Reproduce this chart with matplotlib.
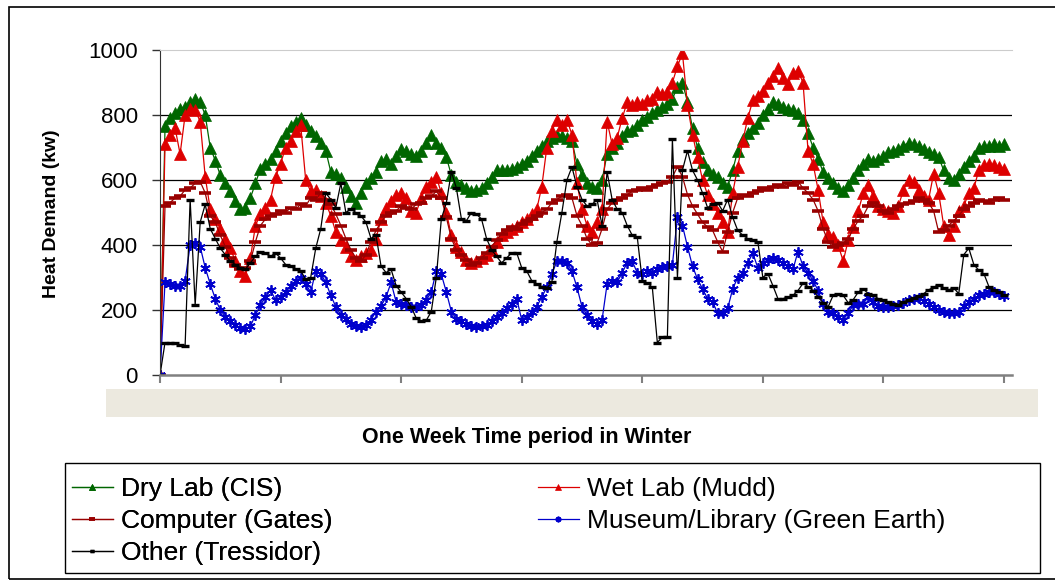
import numpy as np
import matplotlib
matplotlib.use("Agg")
import matplotlib.pyplot as plt
from matplotlib.patches import Rectangle

plt.rcParams["font.family"] = ["Liberation Sans", "DejaVu Sans"]

# hourly heat demand (kW) over one winter week
dry_lab = [
    0, 765, 790, 805, 820, 825, 840, 850, 840, 800, 700, 660, 615, 590, 565, 535,
    510, 515, 545, 590, 635, 650, 665, 690, 720, 745, 765, 780, 790, 770, 750, 735,
    715, 690, 625, 620, 605, 580, 550, 530, 560, 590, 605, 625, 660, 665, 650, 675,
    695, 690, 680, 675, 690, 715, 740, 715, 700, 670, 615, 595, 585, 575, 565, 570,
    575, 590, 610, 630, 630, 630, 635, 640, 650, 660, 675, 690, 705, 720, 730, 740,
    735, 730, 720, 650, 615, 590, 580, 575, 600, 680, 700, 715, 735, 750, 755, 770,
    785, 795, 805, 815, 825, 835, 850, 885, 900, 840, 760, 700, 655, 630, 620, 610,
    590, 580, 630, 690, 725, 745, 760, 775, 800, 820, 840, 835, 825, 820, 815, 805,
    785, 745, 700, 665, 625, 605, 590, 575, 565, 585, 605, 630, 650, 665, 660, 665,
    675, 685, 690, 695, 705, 715, 710, 705, 695, 685, 680, 670, 630, 605, 600, 620,
    640, 660, 675, 700, 705, 705, 710, 705, 710,
]
wet_lab = [
    0, 710, 740, 760, 680, 800, 820, 815, 780, 610, 510, 480, 450, 420, 390, 350,
    320, 305, 360, 460, 495, 515, 540, 610, 650, 700, 720, 750, 770, 600, 565, 570,
    550, 530, 490, 440, 415, 395, 365, 355, 365, 375, 385, 420, 480, 515, 535, 555,
    560, 545, 505, 500, 545, 580, 595, 610, 560, 500, 430, 395, 380, 355, 345, 350,
    360, 370, 385, 410, 430, 440, 450, 460, 470, 480, 495, 510, 580, 700, 750, 785,
    770, 785, 740, 590, 510, 460, 440, 470, 510, 780, 710, 730, 790, 840, 830, 840,
    835, 845, 850, 870, 865, 870, 900, 950, 990, 830, 740, 670, 600, 555, 525, 500,
    470, 440, 560, 640, 720, 790, 845, 860, 875, 900, 920, 945, 915, 895, 930, 935,
    900, 690, 650, 570, 470, 435, 425, 400, 350, 415, 455, 505, 560, 585, 550, 520,
    510, 505, 500, 520, 570, 600, 595, 570, 550, 540, 620, 560, 460, 430, 460, 505,
    520, 560, 575, 630, 645, 650, 645, 640, 635,
]
computer = [
    0, 520, 530, 545, 550, 570, 575, 590, 595, 560, 490, 470, 430, 395, 360, 340,
    325, 330, 350, 410, 460, 480, 490, 495, 505, 500, 515, 510, 525, 520, 545, 540,
    560, 540, 525, 495, 460, 420, 385, 360, 350, 370, 410, 445, 470, 490, 500, 505,
    520, 515, 510, 525, 530, 545, 550, 565, 545, 485, 420, 385, 370, 355, 340, 345,
    360, 375, 395, 415, 435, 445, 455, 450, 465, 475, 480, 490, 500, 510, 530, 540,
    550, 555, 545, 490, 460, 420, 400, 405, 450, 510, 530, 540, 545, 555, 565, 570,
    575, 570, 580, 585, 590, 595, 610, 640, 610, 555, 520, 495, 470, 455, 445, 410,
    380, 440, 500, 545, 555, 550, 560, 565, 575, 570, 580, 585, 580, 590, 585, 595,
    575, 560, 540, 505, 450, 410, 395, 400, 405, 420, 450, 475, 490, 520, 530, 520,
    505, 500, 510, 520, 525, 530, 535, 545, 540, 530, 505, 440, 445, 460, 475, 490,
    510, 520, 530, 540, 535, 530, 540, 545, 540,
]
museum = [
    0, 285, 280, 275, 275, 290, 400, 405, 395, 330, 280, 235, 200, 180, 165, 155,
    145, 143, 150, 185, 215, 240, 262, 230, 240, 255, 275, 290, 300, 280, 255, 320,
    312, 285, 245, 210, 185, 172, 158, 150, 148, 155, 170, 195, 212, 240, 285, 225,
    220, 215, 210, 210, 215, 230, 255, 320, 310, 255, 195, 172, 165, 158, 150, 148,
    150, 155, 165, 180, 192, 205, 218, 235, 170, 180, 195, 210, 240, 270, 310, 350,
    350, 345, 320, 270, 210, 185, 165, 158, 170, 280, 290, 285, 315, 345, 350, 315,
    310, 320, 315, 325, 332, 335, 340, 485, 460, 395, 335, 295, 265, 235, 225, 190,
    190, 205, 265, 300, 315, 345, 375, 330, 345, 355, 360, 355, 345, 335, 325, 380,
    335, 315, 290, 260, 220, 195, 190, 180, 170, 190, 215, 220, 220, 240, 225, 212,
    210, 208, 212, 215, 222, 230, 235, 236, 228, 220, 210, 200, 195, 190, 192, 195,
    212, 225, 235, 245, 250, 256, 255, 248, 242,
]
other = [
    0, 100, 98, 97, 92, 90, 540, 215, 470, 525, 450, 420, 390, 370, 350, 340,
    330, 325, 345, 365, 380, 375, 365, 375, 360, 340, 335, 325, 320, 295, 300, 390,
    450, 560, 540, 515, 590, 500, 510, 500, 490, 470, 420, 430, 335, 315, 325, 275,
    255, 235, 210, 175, 165, 168, 195, 300, 480, 530, 625, 575, 480, 475, 500, 495,
    480, 420, 385, 365, 345, 360, 376, 376, 330, 320, 290, 280, 270, 268, 285, 410,
    500, 600, 640, 580, 540, 520, 525, 540, 460, 625, 540, 510, 500, 460, 430, 425,
    290, 283, 270, 100, 117, 118, 725, 300, 630, 690, 630, 600, 560, 515, 525, 530,
    505, 540, 485, 445, 430, 420, 415, 410, 300, 312, 275, 235, 235, 240, 245, 260,
    282, 272, 260, 240, 222, 210, 245, 250, 245, 222, 232, 255, 265, 250, 245, 235,
    230, 225, 218, 215, 225, 232, 238, 242, 250, 262, 270, 278, 268, 262, 268, 250,
    370, 390, 340, 322, 312, 272, 262, 255, 245,
]

labels = ["Dry Lab (CIS)", "Wet Lab (Mudd)", "Computer (Gates)",
          "Museum/Library (Green Earth)", "Other (Tressidor)"]
colors = ["#006600", "#DD0000", "#990000", "#0000CC", "#000000"]
markers = ["^", "^", "_", (6, 2, 0), "_"]
sizes = [8, 8, 9, 7.5, 6]
widths = [0.5, 0.5, 2.6, 1.3, 2.4]

W, H = 1055, 581
fig = plt.figure(figsize=(W / 100, H / 100), dpi=100)


def fx(px):
    return px / W


def fy(py):
    return 1 - py / H


# outer chart frame, beige band under the plot area, legend frame
fig.patches.append(Rectangle((fx(9), fy(579)), fx(1070 - 9), fy(7) - fy(579),
                             transform=fig.transFigure, fill=False,
                             edgecolor="black", lw=1.2))
fig.patches.append(Rectangle((fx(106), fy(417)), fx(1038 - 106), fy(389) - fy(417),
                             transform=fig.transFigure, facecolor="#ECE9DF",
                             edgecolor="none"))
fig.patches.append(Rectangle((fx(65), fy(573)), fx(1040 - 65), fy(463) - fy(573),
                             transform=fig.transFigure, fill=False,
                             edgecolor="black", lw=1))

ax = fig.add_axes([fx(160), fy(375), fx(1012 - 160), fy(50) - fy(375)])

handles = {}
for series, lab, col, mk, ms, mw in zip([dry_lab, wet_lab, computer, museum, other],
                                         labels, colors, markers, sizes, widths):
    hours = np.arange(len(series))
    (h,) = ax.plot(hours, series, color=col, lw=0.9, marker=mk, ms=ms,
                   mew=mw, mec=col, mfc=col, label=lab)
    handles[lab] = h

ax.set_xlim(0, 169.6)
ax.set_ylim(0, 1000)
ax.set_yticks([0, 200, 400, 600, 800, 1000])
ax.set_xticks(np.arange(0, 169, 24))
ax.set_xticklabels([])
ax.tick_params(axis="y", direction="out", length=6, width=1, pad=10,
               labelsize=16, colors="#333333", labelcolor="black")
ax.tick_params(axis="x", direction="out", length=6, width=1.5, colors="#808080")
for y in [200, 400, 600, 800]:
    ax.axhline(y, color="black", lw=0.9, zorder=0.5)
ax.spines["top"].set_color("#CCCCCC")
ax.spines["right"].set_visible(False)
ax.spines["left"].set_color("#333333")
ax.spines["bottom"].set_color("#808080")
ax.spines["bottom"].set_linewidth(1.8)

fig.text(fx(52), fy(214), "Heat Demand (kw)", rotation=90, ha="center",
         va="center", fontsize=14, fontweight="bold")
fig.text(fx(527), fy(438), "One Week Time period in Winter", ha="center",
         va="center", fontsize=15.5, fontweight="bold")

legend_kw = dict(loc="upper left", bbox_transform=fig.transFigure, fontsize=19,
                 frameon=False, markerscale=0.55, handlelength=1.55,
                 handletextpad=0.3, borderaxespad=0, labelspacing=0.3,
                 borderpad=0)
col1 = ["Dry Lab (CIS)", "Computer (Gates)", "Other (Tressidor)"]
col2 = ["Wet Lab (Mudd)", "Museum/Library (Green Earth)"]
leg1 = fig.legend([handles[k] for k in col1], col1,
                  bbox_to_anchor=(fx(72), fy(477)), **legend_kw)
fig.add_artist(leg1)
fig.legend([handles[k] for k in col2], col2,
           bbox_to_anchor=(fx(538), fy(477)), **legend_kw)

fig.savefig("out.png", dpi=100)
